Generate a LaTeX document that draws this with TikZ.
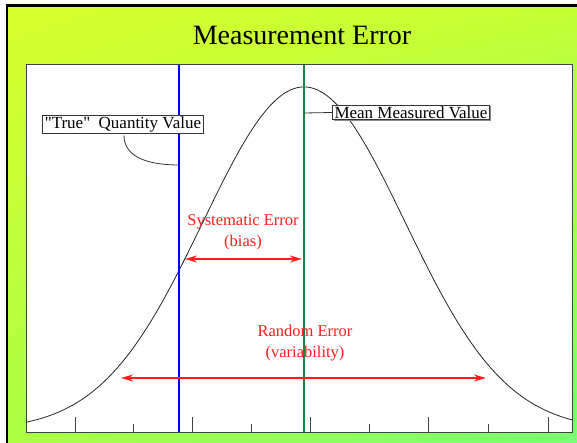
\documentclass[tikz,border=0pt]{standalone}
\usepackage{fontspec}
\setmainfont{Liberation Serif}[Ligatures=TeXOff]
\usetikzlibrary{arrows.meta,shadows,shadings}
\definecolor{bgTL}{RGB}{216,255,46}
\definecolor{bgTR}{RGB}{196,255,52}
\definecolor{bgBL}{RGB}{172,255,66}
\definecolor{bgBR}{RGB}{120,255,115}
\definecolor{meangreen}{RGB}{20,135,70}
\definecolor{errred}{RGB}{255,30,30}
\definecolor{framegray}{RGB}{60,70,60}
\tikzset{
  labelbox/.style={draw=black!80, fill=white, line width=0.8pt, inner xsep=2pt, inner ysep=1.2pt,
    font=\fontsize{17}{19}\selectfont, drop shadow={shadow xshift=1.2pt, shadow yshift=-1.2pt, fill=black!45, opacity=1}},
  errtext/.style={text=errred, font=\fontsize{16.5}{21}\selectfont, align=center},
  errarrow/.style={draw=errred, line width=1.8pt, {Stealth[length=12pt,width=7pt]}-{Stealth[length=12pt,width=7pt]}},
  tick/.style={draw=framegray, line width=0.9pt},
  leader/.style={draw=black!80, line width=0.8pt}
}
\begin{document}
\begin{tikzpicture}[x=1pt,y=-1pt]
\useasboundingbox (0,0) rectangle (577,443);
% background
\fill[white] (0,0) rectangle (577,443);
\shade[upper left=bgTL, upper right=bgTR, lower left=bgBL, lower right=bgBR] (8,6) rectangle (577,443);
\draw[black, line width=2.5pt] (7,443) -- (7,5.5) -- (577,5.5);
% title
\node[font=\fontsize{28}{32}\selectfont] (title) at (302,35) {Measurement Error};
% plot area
\draw[fill=white, draw=framegray, line width=1pt] (26,65) rectangle (572,432);
% ticks
\foreach \t in {75,192,310,428,548} \draw[tick] (\t,432) -- (\t,417);
\foreach \t in {133,251,369,488} \draw[tick] (\t,432) -- (\t,424);
% curve
\draw[black!85, line width=0.8pt, domain=26:572, samples=220, smooth]
  plot (\x, {430-343*exp(-0.5*((\x-304)/101)^2)});
% vertical lines
\coordinate (bt) at (179,65); \coordinate (bb) at (179,432);
\coordinate (gt) at (304,65); \coordinate (gb) at (304,432);
\draw[blue, line width=1.8pt] (bt) -- (bb);
\draw[meangreen, line width=1.8pt] (gt) -- (gb);
% labels
\node[labelbox] (tq) at (123,124) {"True"\ \ Quantity Value};
\node[labelbox] (mm) at (411,112.5) {Mean Measured Value};
\coordinate (tqend) at (179,165);
\coordinate (tqstart) at (124,135.5);
\draw[leader] (tqstart) .. controls (124,158) and (150,165) .. (tqend);
\coordinate (mmend) at (304,113);
\draw[leader] (mmend) -- (mm.west);
% systematic error
\node[errtext] (sys) at (243,232) {Systematic Error\\(bias)};
\coordinate (sa) at (185,259); \coordinate (sb) at (302,259);
\draw[errarrow] (sa) -- (sb);
% random error
\node[errtext] (rnd) at (305,343) {Random Error\\(variability)};
\coordinate (ra) at (121,378); \coordinate (rb) at (486,378);
\draw[errarrow] (ra) -- (rb);
\end{tikzpicture}
\end{document}
